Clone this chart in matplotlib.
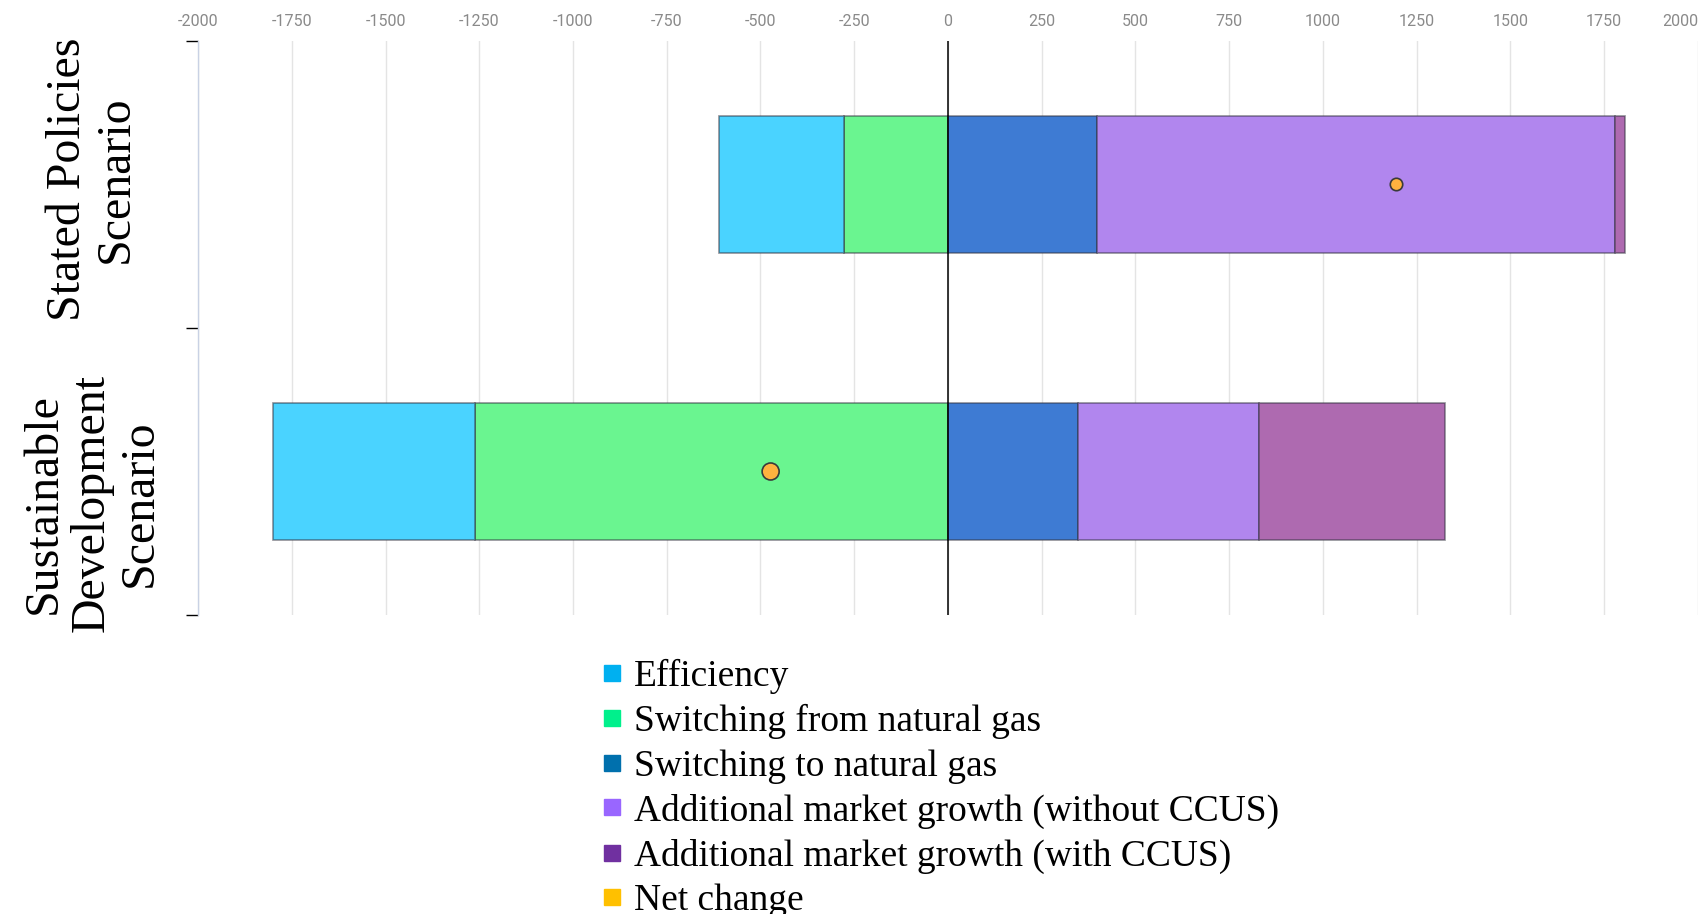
import matplotlib
matplotlib.use("Agg")
import matplotlib.pyplot as plt
from matplotlib.lines import Line2D
from matplotlib.transforms import blended_transform_factory

# Contributions to change (by scenario)
scenarios = ["Stated Policies\nScenario", "Sustainable\nDevelopment\nScenario"]
efficiency = [-332, -539]
switching_from_gas = [-278, -1260]
switching_to_gas = [397, 348]
growth_without_ccus = [1381, 482]
growth_with_ccus = [28, 496]
net_change = [1196, -473]

series_names = [
    "Efficiency",
    "Switching from natural gas",
    "Switching to natural gas",
    "Additional market growth (without CCUS)",
    "Additional market growth (with CCUS)",
    "Net change",
]
x_ticks = [-2000, -1750, -1500, -1250, -1000, -750, -500, -250, 0,
           250, 500, 750, 1000, 1250, 1500, 1750, 2000]
x_tick_labels = ["-2000", "-1750", "-1500", "-1250", "-1000", "-750", "-500",
                 "-250", "0", "250", "500", "750", "1000", "1250", "1500",
                 "1750", "2000"]

bar_colors = ["#4AD3FF", "#6AF590", "#3E7BD3", "#B186EE", "#AE6AB0"]
legend_colors = ["#00B0F0", "#00F08C", "#0070AD", "#9966FF", "#7030A0", "#FFC000"]

W, H = 1699, 914
fig = plt.figure(figsize=(W / 100, H / 100), dpi=100)
ax = fig.add_axes([198 / W, 1 - 615 / H, 1500 / W, 574 / H])

ypos = list(range(len(scenarios)))
bar_h = 0.48
edge = (0.2, 0.2, 0.25, 0.55)

# negative side stacks outward from zero
left_neg = [0] * len(ypos)
for vals, col in [(switching_from_gas, bar_colors[1]), (efficiency, bar_colors[0])]:
    ax.barh(ypos, vals, left=left_neg, height=bar_h, color=col,
            edgecolor=edge, linewidth=1.2, zorder=3)
    left_neg = [a + b for a, b in zip(left_neg, vals)]

left_pos = [0] * len(ypos)
for vals, col in [(switching_to_gas, bar_colors[2]),
                  (growth_without_ccus, bar_colors[3]),
                  (growth_with_ccus, bar_colors[4])]:
    ax.barh(ypos, vals, left=left_pos, height=bar_h, color=col,
            edgecolor=edge, linewidth=1.2, zorder=3)
    left_pos = [a + b for a, b in zip(left_pos, vals)]

# net change markers
ax.scatter(net_change, ypos, s=[80, 150], color="#FFB23F", edgecolor="#3a3a3a",
           linewidth=1.2, zorder=5)

ax.set_xlim(-2000, 2000)
ax.set_ylim(len(scenarios) - 0.5, -0.5)

ax.axvline(0, color="black", linewidth=1.1, zorder=4)
ax.set_xticks(x_ticks)
ax.set_xticklabels(x_tick_labels, family="Roboto", fontsize=11.5, color="#8a8a8a")
ax.xaxis.tick_top()
ax.tick_params(axis="x", length=0, pad=8.6)
ax.grid(axis="x", color="#e4e4e4", linewidth=1, zorder=0)
last = ax.get_xticklabels()[-1]
last.set_ha("right")

ax.set_yticks([-0.5, 0.5, 1.5])
ax.set_yticklabels([])
ax.tick_params(axis="y", length=8.5, width=1, color="black", direction="out")

for s in ["top", "right", "bottom"]:
    ax.spines[s].set_visible(False)
ax.spines["left"].set_color("#c9d2e4")
ax.spines["left"].set_linewidth(1)

# category labels
trans = blended_transform_factory(ax.transAxes, ax.transData)
label_offsets = [-0.02, 0.11]
for y, name, off in zip(ypos, scenarios, label_offsets):
    ax.text(-106 / 1500, y + off, name, transform=trans, rotation=90,
            ha="center", va="center", multialignment="center",
            family="Liberation Serif", fontsize=34.5, linespacing=1.12,
            clip_on=False)

handles = [Line2D([], [], linestyle="none", marker="s", markersize=11.5,
                  markerfacecolor=c, markeredgecolor=c) for c in legend_colors]
fig.legend(handles, series_names, loc="upper left",
           bbox_to_anchor=(601 / W, 1 - 659 / H), frameon=False,
           prop={"family": "Liberation Serif", "size": 27},
           handlelength=0.6, handletextpad=0.27, labelspacing=0.265,
           borderpad=0, borderaxespad=0)

fig.savefig("out.png", dpi=100)
